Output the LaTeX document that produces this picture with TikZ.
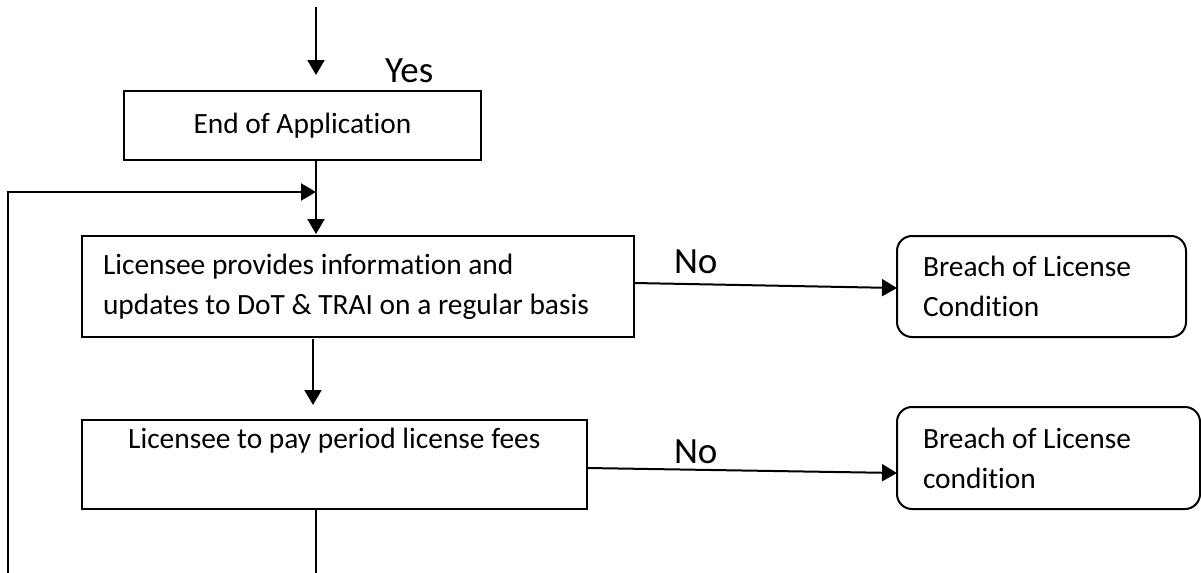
\documentclass[tikz,border=0pt]{standalone}
\usepackage{fontspec}
\setmainfont{Carlito}[Ligatures=NoCommon]
\usetikzlibrary{arrows.meta}
\begin{document}
\begin{tikzpicture}[x=0.5pt,y=-0.5pt,>={Triangle[length=7.5pt,width=8.5pt]},line width=1pt,
	box/.style={draw,outer sep=0pt,inner sep=0pt,font=\fontsize{14.7}{20}\selectfont,anchor=north west},
	breach/.style={box,rounded corners=7.5pt,align=flush left,inner xsep=13pt},
	lbl/.style={font=\fontsize{18.5}{22}\selectfont,anchor=base west,inner sep=0pt}]
	\useasboundingbox (0,0) rectangle (1201,573);
	\node[box,minimum width=178.5pt,minimum height=34.5pt] (endapp) at (124,91) {End of Application};
	\node[box,align=flush left,text width=254.75pt,inner xsep=10.75pt,minimum height=50.5pt] (lic) at (81.5,236)
		{Licensee provides information and\\updates to DoT \& TRAI on a regular basis};
	\node[box,align=center,minimum width=252.75pt,minimum height=44.5pt] (fee) at (81.5,420)
		{Licensee to pay period license fees\\\strut};
	\node[breach,text width=118.5pt,minimum height=50.5pt] (br1) at (897,236) {Breach of License\\Condition};
	\node[breach,text width=125.5pt,minimum height=51pt] (br2) at (897,407) {Breach of License\\condition};
	\node[lbl] (yes) at (384,83) {Yes};
	\node[lbl] (no1) at (673,273) {No};
	\node[lbl] (no2) at (673,463) {No};
	\coordinate (top) at (316,7);
	\coordinate (topend) at (316,75);
	\coordinate (join) at (316,192);
	\coordinate (fb) at (8,573);
	\coordinate (out) at (316,573);
	\draw[->] (top) -- (topend);
	\draw (endapp.south -| join) -- (join);
	\draw[->] (join) -- ([yshift=1pt]lic.north -| join);
	\draw[->] (fb) |- (join);
	\draw[->] ([xshift=-1.5pt,yshift=-1pt]lic.south -| join) -- ([xshift=-1.5pt,yshift=7.5pt]fee.north -| join);
	\draw (fee.south -| join) -- (out);
	\draw[->] ([yshift=1.75pt]lic.east) -- ([yshift=-0.75pt]br1.west);
	\draw[->] ([yshift=-1.75pt]fee.east) -- ([yshift=-7.5pt]br2.west);
\end{tikzpicture}
\end{document}
